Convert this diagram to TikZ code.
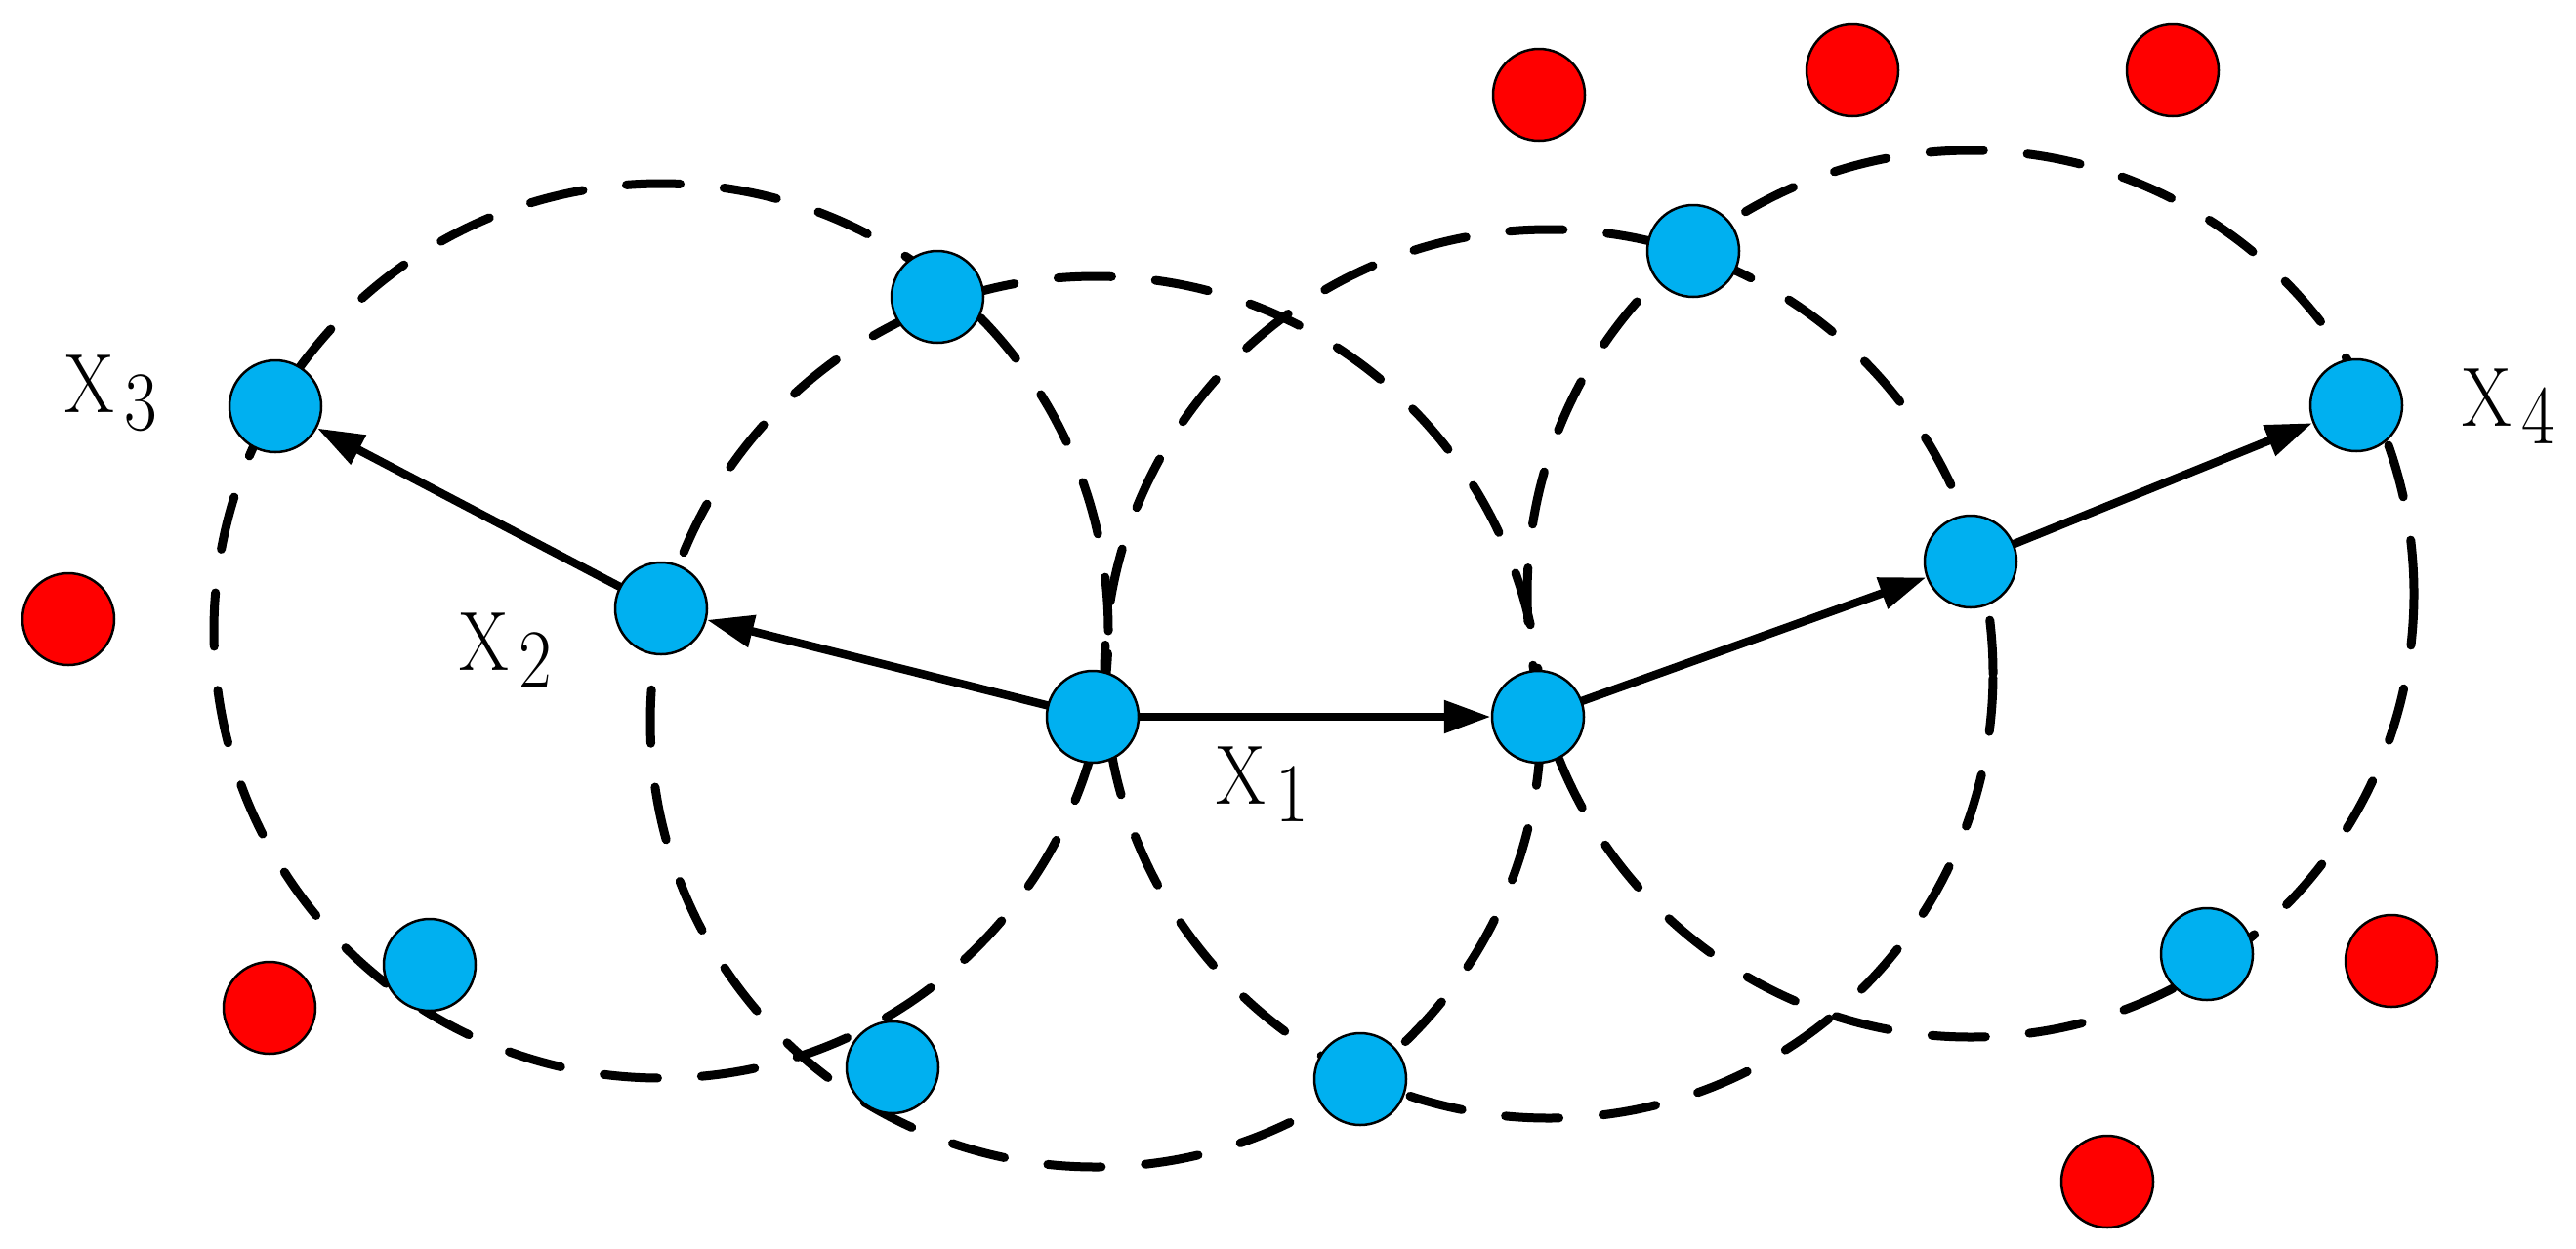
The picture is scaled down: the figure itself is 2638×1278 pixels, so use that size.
\documentclass[tikz,border=0pt]{standalone}
\usetikzlibrary{arrows.meta}
\definecolor{nodeblue}{HTML}{00B0F0}
\definecolor{nodered}{HTML}{FF0000}
\tikzset{
  ring/.style={line width=9pt, dash pattern=on 55pt off 45pt, line cap=round},
  bnode/.style={circle, fill=nodeblue, draw=black, line width=2.5pt, inner sep=0pt, minimum size=94pt},
  rnode/.style={circle, fill=nodered, draw=black, line width=2.5pt, inner sep=0pt, minimum size=94pt},
  link/.style={line width=8.5pt, -{Triangle[length=48pt,width=32pt]}, shorten <=-2pt},
  lbl/.style={anchor=base west, inner sep=0pt, font=\fontsize{86}{86}\selectfont}
}
\newcommand{\xlab}[1]{\scalebox{0.85}[1]{X\hspace{12pt}\raisebox{-18pt}{#1}}}
\begin{document}
\begin{tikzpicture}[x=1pt,y=-1pt]
\useasboundingbox (0,0) rectangle (2638,1278);
% dashed range circles
\coordinate (cA) at (677,646);
\coordinate (cB) at (1122,739);
\coordinate (cC) at (1586,690);
\coordinate (cD) at (2018,608);
\draw[ring] (cA) circle[radius=458pt];
\draw[ring] (cB) circle[radius=456pt];
\draw[ring] (cC) circle[radius=455pt];
\draw[ring] (cD) circle[radius=454pt];
% blue nodes
\node[bnode] (x3) at (282,416) {};
\node[bnode] (x2) at (677,623) {};
\node[bnode] (c)  at (1119,734) {};
\node[bnode] (x1) at (1575,734) {};
\node[bnode] (n5) at (2018,575) {};
\node[bnode] (x4) at (2413,415) {};
\node[bnode] (t1) at (960,304) {};
\node[bnode] (t2) at (1734,257) {};
\node[bnode] (b1) at (440,988) {};
\node[bnode] (b2) at (914,1093) {};
\node[bnode] (b3) at (1393,1105) {};
\node[bnode] (b4) at (2260,977) {};
% red nodes
\node[rnode] (r1) at (70,634) {};
\node[rnode] (r2) at (276,1032) {};
\node[rnode] (r3) at (1576,97) {};
\node[rnode] (r4) at (1897,72) {};
\node[rnode] (r5) at (2225,72) {};
\node[rnode] (r6) at (2449,984) {};
\node[rnode] (r7) at (2158,1210) {};
% arrows
\draw[link] (c) -- (x2);
\draw[link] (x2) -- (x3);
\draw[link] (c) -- (x1);
\draw[link] (x1) -- (n5);
\draw[link] (n5) -- (x4);
% labels
\node[lbl] (l3) at (66,422) {\xlab{3}};
\node[lbl] (l2) at (470,686) {\xlab{2}};
\node[lbl] (l1) at (1245,823) {\xlab{1}};
\node[lbl] (l4) at (2521,436) {\xlab{4}};
\end{tikzpicture}
\end{document}
